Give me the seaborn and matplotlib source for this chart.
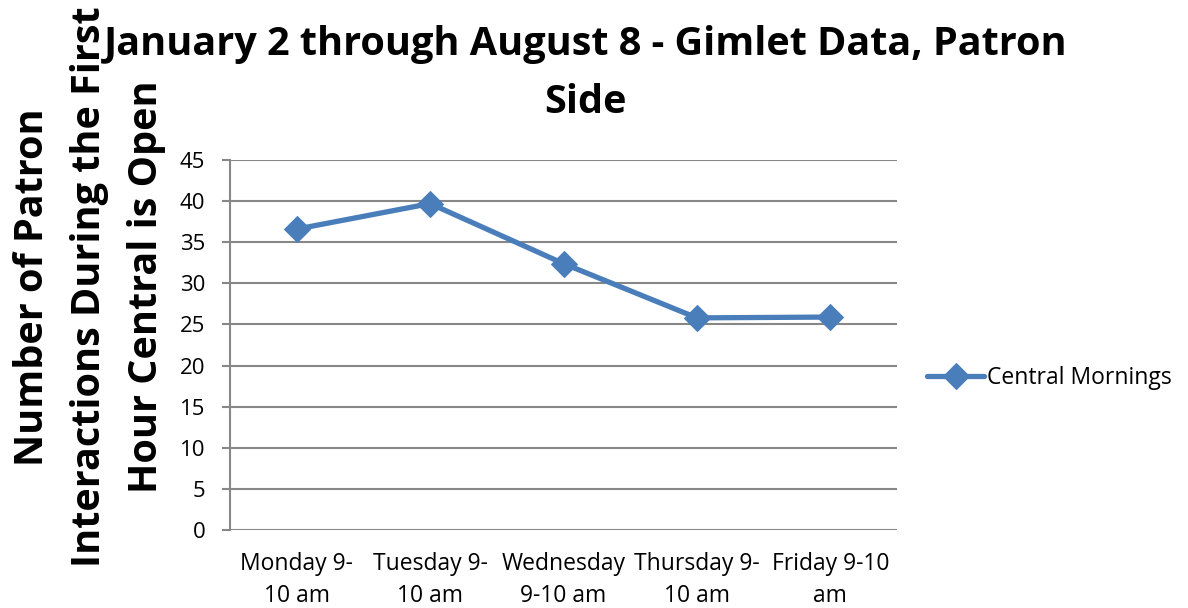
import matplotlib
matplotlib.use("Agg")
import matplotlib.pyplot as plt
import seaborn as sns
import pandas as pd

categories = ["Monday 9-\n10 am", "Tuesday 9-\n10 am", "Wednesday\n9-10 am", "Thursday 9-\n10 am", "Friday 9-10\nam"]
values = [36.6, 39.7, 32.4, 25.8, 25.9]
series_name = "Central Mornings"
yticks = [0, 5, 10, 15, 20, 25, 30, 35, 40, 45]
title = "January 2 through August 8 - Gimlet Data, Patron\nSide"
ylabel = "Number of Patron\nInteractions During the First\nHour Central is Open"

sns.set_style("white")
plt.rcParams["font.family"] = ["Open Sans", "DejaVu Sans"]
plt.rcParams["text.color"] = "black"
plt.rcParams["xtick.color"] = "black"
plt.rcParams["ytick.color"] = "black"

df = pd.DataFrame({"day": categories, "value": values, "series": series_name})
df["x"] = range(len(categories))

fig = plt.figure(figsize=(11.88, 6.08), dpi=100)
ax = fig.add_axes([0.1936, 0.1283, 0.5615, 0.6085])

sns.lineplot(data=df, x="x", y="value", hue="series", palette=["#4A7EBB"],
             marker="D", markersize=13, markeredgecolor="#4A7EBB",
             linewidth=3.8, ax=ax)

ax.set_xlim(-0.5, len(categories) - 0.5)
ax.set_ylim(0, 45)
ax.set_yticks(yticks)
ax.set_xticks(range(len(categories)))
ax.set_xticklabels(categories, fontsize=16.5, linespacing=1.42)
ax.tick_params(axis="y", labelsize=16, length=5.8, color="#878787", width=1.5,
               direction="out", left=True, pad=12, labelcolor="black")
ax.tick_params(axis="x", length=0, pad=16, labelcolor="black")
ax.grid(axis="y", color="#878787", linewidth=1.5)
ax.set_axisbelow(True)
for s in ["top", "right", "bottom"]:
    ax.spines[s].set_visible(False)
ax.spines["left"].set_color("#878787")
ax.spines["left"].set_linewidth(1.5)
ax.set_xlabel("")
ax.set_ylabel("")

fig.text(0.075, 0.528, ylabel, ha="center", va="center", rotation=90,
         fontsize=28.5, fontweight="bold", linespacing=1.6, color="black")
fig.text(0.493, 0.879, title, ha="center", va="center", fontsize=28.5,
         fontweight="bold", linespacing=1.66, color="black")

ax.legend(loc="center left", bbox_to_anchor=(1.045, 0.41), frameon=False, fontsize=16.5,
          handlelength=2.5, handletextpad=0.1, borderaxespad=0, borderpad=0)

fig.savefig("out.png", dpi=100)
